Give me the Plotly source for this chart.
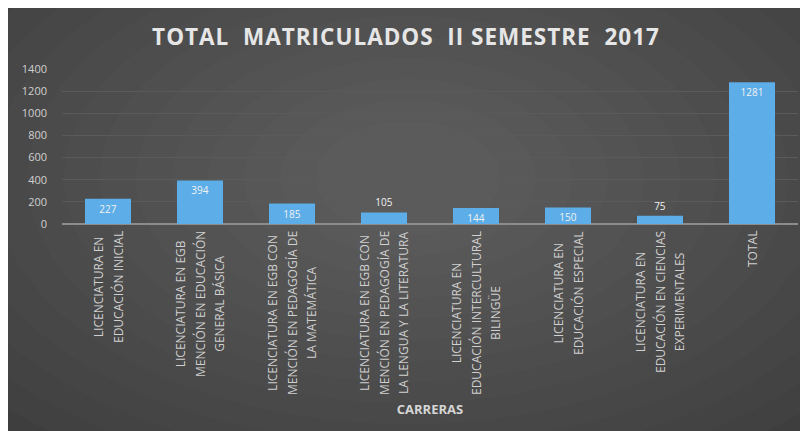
import plotly.graph_objects as go

categories = [
    "LICENCIATURA EN<br>EDUCACIÓN INICIAL",
    "LICENCIATURA EN EGB<br>MENCIÓN EN EDUCACIÓN<br>GENERAL BÁSICA",
    "LICENCIATURA EN EGB CON<br>MENCIÓN EN PEDAGOGÍA DE<br>LA MATEMÁTICA",
    "LICENCIATURA EN EGB CON<br>MENCIÓN EN PEDAGOGÍA DE<br>LA LENGUA Y LA LITERATURA",
    "LICENCIATURA EN<br>EDUCACIÓN INTERCULTURAL<br>BILINGÜE",
    "LICENCIATURA EN<br>EDUCACIÓN ESPECIAL",
    "LICENCIATURA EN<br>EDUCACIÓN EN CIENCIAS<br>EXPERIMENTALES",
    "TOTAL",
]
matriculados = [227, 394, 185, 105, 144, 150, 75, 1281]
y_ticks = [0, 200, 400, 600, 800, 1000, 1200, 1400]

# the page adds an 8px body margin, so the figure is 8px smaller than the window
W, H = 800, 423
ML, MR, MT, MB = 54, 10, 61, 207
PW, PH = W - ML - MR, H - MT - MB

def px_x(p):
    return (p - ML) / PW

def px_y(p):
    return (H - MB - p) / PH

# short bars carry their label just above the bar top
label_pos = ["outside" if v < 120 else "inside" for v in matriculados]

fig = go.Figure(go.Bar(
    x=categories,
    y=matriculados,
    marker=dict(color="#5DADE8", line=dict(width=0)),
    text=[str(v) for v in matriculados],
    textposition=label_pos,
    insidetextanchor="end",
    textfont=dict(color="#f2f2f2", size=10, family="Open Sans"),
    cliponaxis=False,
    width=0.5,
))

shapes = []
# soft radial glow towards the centre of the chart area
cx, cy = 400, 170
for i in range(14):
    rx = 560 - i * 36
    ry = 330 - i * 21
    shapes.append(dict(type="circle", xref="paper", yref="paper",
                       x0=px_x(cx - rx), x1=px_x(cx + rx),
                       y0=px_y(cy + ry), y1=px_y(cy - ry),
                       fillcolor="rgba(255,255,255,0.016)", line=dict(width=0), layer="below"))

annotations = []
for i, cat in enumerate(categories):
    lines = cat.split("<br>")
    txt = "<br>".join("<span style='font-size:12px'>%s</span>" % ln for ln in lines)
    annotations.append(dict(
        x=cat, y=px_y(221), xref="x", yref="paper",
        text=txt, textangle=-90, align="center",
        xanchor="center", yanchor="top", showarrow=False,
        font=dict(size=15, color="#d0d0d0", family="Open Sans"),
    ))

title_text = ("<b><span style='letter-spacing:1px'>"
              "TOTAL  MATRICULADOS  II SEMESTRE  2017</span></b>")

fig.update_layout(
    width=W, height=H,
    margin=dict(l=ML, r=MR, t=MT, b=MB, pad=0),
    paper_bgcolor="#3e3e3e",
    plot_bgcolor="rgba(0,0,0,0)",
    shapes=shapes,
    annotations=annotations,
    showlegend=False,
    font=dict(family="Open Sans", color="#d6d6d6"),
    uniformtext=dict(minsize=10, mode="show"),
    title=dict(text=title_text,
               x=398 / W, xanchor="center", xref="container",
               y=1 - 29 / H, yanchor="middle",
               font=dict(size=22.5, color="#e6e6e6", family="Open Sans")),
)
fig.update_xaxes(
    showticklabels=False, ticks="",
    showline=False, showgrid=False,
    range=[-0.5, 7.5],
    title=dict(text="<b>CARRERAS</b>", font=dict(size=13, color="#d6d6d6"), standoff=180),
    automargin=False,
)
fig.update_yaxes(
    range=[0, 1400],
    tickvals=y_ticks,
    tickfont=dict(size=11, color="#d0d0d0", family="Open Sans"),
    showgrid=True, gridcolor="#5a5a5a", gridwidth=1,
    zeroline=True, zerolinecolor="#8c8c8c", zerolinewidth=2,
    ticklabelstandoff=14,
    automargin=False,
)
fig.write_html("out.html")
